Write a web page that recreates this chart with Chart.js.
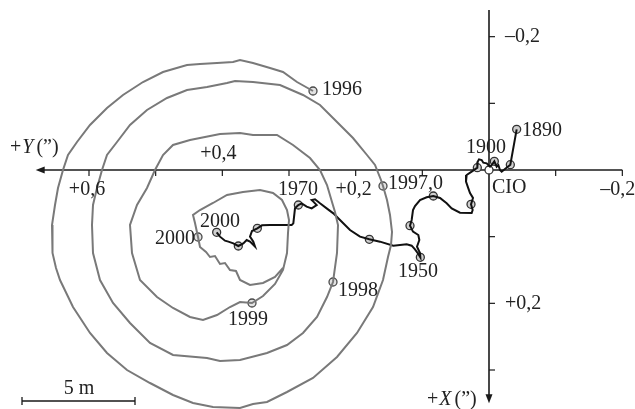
<!DOCTYPE html>
<html>
<head>
<meta charset="utf-8">
<script src="https://cdn.jsdelivr.net/npm/chart.js@4.4.1/dist/chart.umd.min.js"></script>
<style>
  html, body { margin: 0; padding: 0; background: #fff; }
  #wrap { width: 635px; height: 409px; position: relative; }
</style>
</head>
<body>
<div id="wrap"><canvas id="chart"></canvas></div>
<script>
// Pole coordinates in arcseconds. Y grows to the left, X grows downward.

// 1996 - 2000 spiral (grey)
const spiralY = [0.264, 0.288, 0.309, 0.3285, 0.354, 0.3735, 0.384, 0.408, 0.4335, 0.453, 0.489, 0.519, 0.549, 0.573, 0.5985, 0.618, 0.6315, 0.639, 0.6465, 0.651, 0.6555, 0.6555, 0.654, 0.6495, 0.6435, 0.624, 0.5985, 0.573, 0.543, 0.5085, 0.474, 0.444, 0.414, 0.3735, 0.354, 0.333, 0.303, 0.264, 0.228, 0.198, 0.174, 0.159, 0.1515, 0.147, 0.1455, 0.1485, 0.153, 0.159, 0.162, 0.171, 0.183, 0.204, 0.228, 0.2535, 0.279, 0.3135, 0.354, 0.381, 0.393, 0.423, 0.453, 0.483, 0.513, 0.5385, 0.558, 0.573, 0.5805, 0.588, 0.594, 0.5955, 0.594, 0.5835, 0.564, 0.5385, 0.5085, 0.474, 0.423, 0.4035, 0.3735, 0.333, 0.303, 0.279, 0.258, 0.243, 0.234, 0.228, 0.2265, 0.231, 0.2355, 0.243, 0.2535, 0.2685, 0.294, 0.318, 0.354, 0.3735, 0.4035, 0.4485, 0.474, 0.489, 0.501, 0.513, 0.528, 0.5385, 0.5355, 0.5235, 0.498, 0.474, 0.4485, 0.429, 0.408, 0.3885, 0.3735, 0.3555, 0.339, 0.321, 0.309, 0.303, 0.3015, 0.3, 0.303, 0.3105, 0.324, 0.3435, 0.369, 0.393, 0.414, 0.4335, 0.444, 0.441, 0.4365, 0.4335, 0.4245, 0.4185, 0.411, 0.4035, 0.396, 0.3885, 0.3795, 0.3735, 0.3585, 0.339, 0.321, 0.309];
const spiralX = [-0.1185, -0.132, -0.147, -0.153, -0.1605, -0.165, -0.162, -0.1605, -0.159, -0.1575, -0.147, -0.132, -0.1125, -0.093, -0.0675, -0.042, -0.0225, 0, 0.027, 0.0525, 0.0825, 0.105, 0.1245, 0.147, 0.165, 0.2055, 0.2445, 0.2745, 0.3, 0.3195, 0.3375, 0.3495, 0.3555, 0.357, 0.351, 0.348, 0.333, 0.312, 0.2805, 0.2445, 0.2055, 0.165, 0.1305, 0.1125, 0.093, 0.0675, 0.045, 0.024, 0.015, -0.0075, -0.0225, -0.048, -0.072, -0.0975, -0.1125, -0.1275, -0.132, -0.1335, -0.1305, -0.1245, -0.12, -0.108, -0.09, -0.0675, -0.042, -0.0225, 0, 0.027, 0.0525, 0.0825, 0.1245, 0.165, 0.1995, 0.2295, 0.2595, 0.2775, 0.282, 0.2865, 0.285, 0.2745, 0.2625, 0.2445, 0.2205, 0.1905, 0.168, 0.1245, 0.0825, 0.063, 0.048, 0.0225, 0, -0.018, -0.0375, -0.0525, -0.0525, -0.0555, -0.054, -0.045, -0.0375, -0.0225, 0, 0.027, 0.0525, 0.0825, 0.1245, 0.165, 0.1905, 0.207, 0.2205, 0.225, 0.2175, 0.2055, 0.198, 0.1995, 0.189, 0.171, 0.15, 0.1245, 0.0945, 0.075, 0.06, 0.045, 0.0345, 0.03, 0.033, 0.0375, 0.0495, 0.06, 0.0675, 0.0795, 0.1005, 0.1155, 0.123, 0.1305, 0.129, 0.141, 0.1395, 0.15, 0.1515, 0.165, 0.1725, 0.1695, 0.1605, 0.147];
const spiralMarkY = [0.264, 0.159, 0.234, 0.3555, 0.4365];
const spiralMarkX = [-0.1185, 0.024, 0.168, 0.1995, 0.1005];

// 1890 - 2000 mean pole drift (black)
const driftY = [-0.0415, -0.032, -0.024, -0.019, -0.0165, -0.014, -0.0115, -0.008, -0.004, -0.0015, 0.0035, 0.0085, 0.011, 0.015, 0.017, 0.0175, 0.026, 0.0335, 0.0345, 0.031, 0.0285, 0.024, 0.027, 0.0245, 0.026, 0.0435, 0.056, 0.0635, 0.0735, 0.0835, 0.0935, 0.1035, 0.111, 0.114, 0.116, 0.1185, 0.114, 0.106, 0.1045, 0.108, 0.1035, 0.103, 0.106, 0.111, 0.116, 0.1235, 0.1435, 0.1635, 0.1795, 0.1935, 0.2085, 0.2235, 0.2335, 0.2435, 0.2535, 0.261, 0.266, 0.2635, 0.2585, 0.266, 0.2735, 0.281, 0.286, 0.291, 0.2935, 0.296, 0.3135, 0.3285, 0.3405, 0.3475, 0.3555, 0.3585, 0.3535, 0.351, 0.3585, 0.3635, 0.3685, 0.376, 0.3835, 0.391, 0.396, 0.4035, 0.4085];
const driftX = [-0.061, -0.008, -0.0015, 0.0025, 0, -0.0075, -0.005, -0.013, -0.0075, -0.005, -0.010, -0.011, -0.015, -0.016, -0.0125, -0.0035, 0.0025, 0.0075, 0.0175, 0.0275, 0.0345, 0.042, 0.0515, 0.06, 0.0645, 0.064, 0.0575, 0.05, 0.042, 0.039, 0.041, 0.045, 0.054, 0.06, 0.075, 0.0835, 0.0925, 0.0975, 0.105, 0.115, 0.1245, 0.131, 0.126, 0.119, 0.1135, 0.1115, 0.1135, 0.1075, 0.104, 0.100, 0.09, 0.075, 0.065, 0.0575, 0.05, 0.044, 0.045, 0.0475, 0.0525, 0.0575, 0.055, 0.05, 0.0525, 0.0575, 0.08, 0.0825, 0.0825, 0.0825, 0.083, 0.0875, 0.0915, 0.100, 0.1075, 0.115, 0.1075, 0.105, 0.110, 0.114, 0.110, 0.1075, 0.106, 0.100, 0.0935];
const driftMarkY = [-0.0415, -0.032, -0.008, 0.0175, 0.027, 0.0835, 0.1185, 0.103, 0.1795, 0.286, 0.3475, 0.376, 0.4085];
const driftMarkX = [-0.061, -0.008, -0.013, -0.0035, 0.0515, 0.039, 0.0835, 0.131, 0.104, 0.0525, 0.0875, 0.114, 0.0935];

// axes
const hTickValues = [0.6, 0.5, 0.4, 0.3, 0.2, 0.1, -0.1, -0.2];
const vTickValues = [-0.2, -0.1, 0.1, 0.2, 0.3];
const hTickLabels = ['+0,6', '+0,4', '+0,2', '\u20130,2'];
const hTickLabelValues = [0.6, 0.4, 0.2, -0.2];
const vTickLabels = ['\u20130,2', '+0,2'];
const vTickLabelValues = [-0.2, 0.2];

// annotations: [text, Y, X, align]
const notes = [
  ['1996', 0.2505, -0.12, 'left'],
  ['1997,0', 0.1515, 0.021, 'left'],
  ['1998', 0.2265, 0.1815, 'left'],
  ['1999', 0.3615, 0.225, 'center'],
  ['2000', 0.441, 0.1035, 'right'],
  ['2000', 0.4335, 0.078, 'left'],
  ['1970', 0.2865, 0.03, 'center'],
  ['1950', 0.1065, 0.153, 'center'],
  ['1900', 0.0045, -0.033, 'center'],
  ['1890', -0.0495, -0.0585, 'left'],
  ['CIO', -0.0045, 0.027, 'left']
];

const FONT = '20px "Liberation Serif", "DejaVu Serif", serif';
const FONT_I = 'italic 20px "Liberation Serif", "DejaVu Serif", serif';

const toPts = (ys, xs) => ys.map((v, i) => ({ x: v, y: xs[i] }));

const polarAxes = {
    id: 'polarAxes',
    beforeDatasetsDraw(chart) {
        const { ctx, scales: { x, y } } = chart;
        const ox = x.getPixelForValue(0);
        const oy = y.getPixelForValue(0);
        ctx.save();
        ctx.strokeStyle = '#1a1a1a';
        ctx.fillStyle = '#1a1a1a';
        ctx.lineWidth = 1.6;

        // horizontal (Y) axis, arrow to the left
        const left = x.getPixelForValue(0.68);
        const right = x.getPixelForValue(-0.2);
        ctx.beginPath();
        ctx.moveTo(left + 4, oy);
        ctx.lineTo(right, oy);
        ctx.stroke();
        ctx.beginPath();
        ctx.moveTo(left, oy);
        ctx.lineTo(left + 9, oy - 3.5);
        ctx.lineTo(left + 9, oy + 3.5);
        ctx.closePath();
        ctx.fill();
        ctx.lineWidth = 1.2;
        hTickValues.forEach(v => {
            const px = x.getPixelForValue(v);
            ctx.beginPath();
            ctx.moveTo(px, oy);
            ctx.lineTo(px, oy + 6);
            ctx.stroke();
        });

        // vertical (X) axis, arrow downward
        const top = y.getPixelForValue(-0.24);
        const bottom = y.getPixelForValue(0.35);
        ctx.lineWidth = 1.6;
        ctx.beginPath();
        ctx.moveTo(ox, top);
        ctx.lineTo(ox, bottom - 4);
        ctx.stroke();
        ctx.beginPath();
        ctx.moveTo(ox, bottom);
        ctx.lineTo(ox - 3.5, bottom - 9);
        ctx.lineTo(ox + 3.5, bottom - 9);
        ctx.closePath();
        ctx.fill();
        ctx.lineWidth = 1.2;
        vTickValues.forEach(v => {
            const py = y.getPixelForValue(v);
            ctx.beginPath();
            ctx.moveTo(ox, py);
            ctx.lineTo(ox + 6, py);
            ctx.stroke();
        });

        // scale bar: 5 m
        const b0 = x.getPixelForValue(0.7005);
        const b1 = x.getPixelForValue(0.531);
        const by = y.getPixelForValue(0.3465);
        ctx.lineWidth = 1.3;
        ctx.beginPath();
        ctx.moveTo(b0, by); ctx.lineTo(b1, by);
        ctx.moveTo(b0, by - 4); ctx.lineTo(b0, by + 4);
        ctx.moveTo(b1, by - 4); ctx.lineTo(b1, by + 4);
        ctx.stroke();
        ctx.restore();
    },
    afterDatasetsDraw(chart) {
        const { ctx, scales: { x, y } } = chart;
        const ox = x.getPixelForValue(0);
        const oy = y.getPixelForValue(0);
        ctx.save();
        ctx.fillStyle = '#222';
        ctx.font = FONT;
        ctx.textBaseline = 'middle';

        // tick labels
        hTickLabelValues.forEach((v, i) => {
            const px = x.getPixelForValue(v);
            if (v === 0.4) {
                ctx.textAlign = 'center';
                ctx.fillText(hTickLabels[i], px - 4, oy - 16);
            } else if (v < 0) {
                ctx.textAlign = 'right';
                ctx.fillText(hTickLabels[i], px + 13, oy + 20);
            } else {
                ctx.textAlign = 'center';
                ctx.fillText(hTickLabels[i], px - 2, oy + 20);
            }
        });
        ctx.textAlign = 'left';
        vTickLabelValues.forEach((v, i) => {
            ctx.fillText(vTickLabels[i], ox + 16, y.getPixelForValue(v));
        });

        // point notes
        notes.forEach(([t, vy, vx, al]) => {
            ctx.textAlign = al;
            ctx.fillText(t, x.getPixelForValue(vy), y.getPixelForValue(vx));
        });

        // axis titles
        const title = (px, py, letter) => {
            ctx.textAlign = 'left';
            ctx.font = FONT;
            ctx.fillText('+', px, py);
            let cx = px + ctx.measureText('+').width + 1;
            ctx.font = FONT_I;
            ctx.fillText(letter, cx, py);
            cx += ctx.measureText(letter).width + 3;
            ctx.font = FONT;
            ctx.fillText('(\u201D)', cx, py);
        };
        title(10, oy - 22, 'Y');
        title(ox - 62, y.getPixelForValue(0.345), 'X');

        ctx.font = FONT;
        ctx.textAlign = 'center';
        ctx.fillText('5 m', x.getPixelForValue(0.615), y.getPixelForValue(0.3465) - 12);
        ctx.restore();
    }
};

new Chart(document.getElementById('chart'), {
    type: 'scatter',
    data: {
        datasets: [
            {
                label: 'spiral',
                data: toPts(spiralY, spiralX),
                showLine: true,
                borderColor: '#797979',
                borderWidth: 2,
                pointRadius: 0,
                tension: 0
            },
            {
                label: 'drift',
                data: toPts(driftY, driftX),
                showLine: true,
                borderColor: '#111',
                borderWidth: 2,
                pointRadius: 0,
                tension: 0
            },
            {
                label: 'spiral marks',
                data: toPts(spiralMarkY, spiralMarkX),
                pointRadius: 4,
                pointBackgroundColor: '#e2e2e2',
                pointBorderColor: '#4a4a4a',
                pointBorderWidth: 1.3
            },
            {
                label: 'drift marks',
                data: toPts(driftMarkY, driftMarkX),
                pointRadius: 4,
                pointBackgroundColor: '#cfcfcf',
                pointBorderColor: '#333',
                pointBorderWidth: 1.3
            },
            {
                label: 'CIO',
                data: [{ x: 0, y: 0 }],
                pointRadius: 4,
                pointBackgroundColor: '#fff',
                pointBorderColor: '#333',
                pointBorderWidth: 1.3
            }
        ]
    },
    options: {
        responsive: true,
        maintainAspectRatio: false,
        animation: false,
        layout: { padding: 0, autoPadding: false },
        plugins: {
            legend: { display: false },
            tooltip: { enabled: false }
        },
        scales: {
            x: { type: 'linear', display: false, reverse: true, min: -0.219, max: 0.7335 },
            y: { type: 'linear', display: false, reverse: true, min: -0.255, max: 0.3585 }
        }
    },
    plugins: [polarAxes]
});
</script>
</body>
</html>
